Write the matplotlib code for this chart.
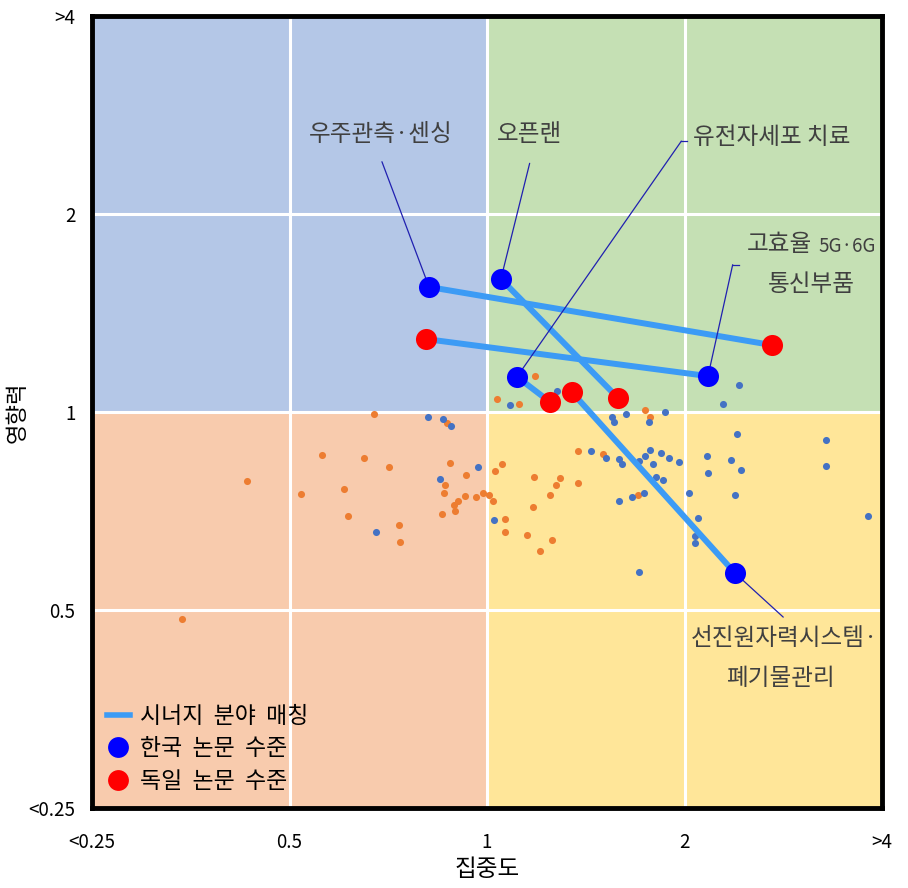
import matplotlib
matplotlib.use("Agg")
import matplotlib.pyplot as plt
from matplotlib.lines import Line2D
import numpy as np

plt.rcParams['font.family'] = ['Noto Sans CJK KR', 'DejaVu Sans']

# ---- data ----
kr_small_x = [0.814, 0.858, 0.880, 0.970, 0.848, 0.678, 1.280, 1.085, 2.423, 2.291,
              1.870, 1.630, 1.552, 1.564, 1.768, 2.407, 3.290, 1.442, 1.520, 1.591,
              1.608, 1.706, 1.774, 1.743, 1.791, 1.844, 1.896, 1.964, 2.166, 2.357,
              2.442, 2.175, 3.290, 1.811, 1.857, 1.591, 1.665, 1.736, 2.034, 2.390,
              1.026, 2.099, 2.073, 2.077, 3.813, 1.706]
kr_small_y = [0.981, 0.975, 0.951, 0.824, 0.790, 0.656, 1.075, 1.024, 1.098, 1.027,
              0.999, 0.992, 0.981, 0.967, 0.967, 0.925, 0.906, 0.872, 0.852, 0.847,
              0.835, 0.841, 0.875, 0.856, 0.835, 0.865, 0.850, 0.839, 0.856, 0.845,
              0.816, 0.807, 0.827, 0.796, 0.787, 0.732, 0.742, 0.752, 0.752, 0.747,
              0.684, 0.691, 0.647, 0.632, 0.694, 0.572]

de_small_x = [0.673, 0.868, 0.561, 0.650, 0.709, 0.879, 0.431, 0.864, 0.930, 0.521,
              0.606, 0.861, 0.927, 0.963, 0.987, 1.008, 0.904, 0.891, 0.894, 0.855,
              0.613, 0.735, 0.738, 0.343, 1.185, 1.037, 1.120, 1.743, 1.774, 1.376,
              1.504, 1.055, 1.030, 1.180, 1.293, 1.275, 1.376, 1.022, 1.249, 1.176,
              1.701, 1.066, 1.066, 1.152, 1.258, 1.206]
de_small_y = [0.992, 0.962, 0.859, 0.850, 0.824, 0.836, 0.785, 0.774, 0.801, 0.750,
              0.763, 0.752, 0.744, 0.742, 0.752, 0.747, 0.732, 0.721, 0.706, 0.699,
              0.696, 0.673, 0.634, 0.484, 1.133, 1.045, 1.027, 1.006, 0.981, 0.872,
              0.862, 0.833, 0.812, 0.796, 0.793, 0.774, 0.779, 0.732, 0.747, 0.716,
              0.747, 0.687, 0.656, 0.651, 0.638, 0.614]

fields = ['우주관측·센싱', '고효율 5G·6G 통신부품', '오픈랜', '유전자세포 치료', '선진원자력시스템·폐기물관리']
kr_x = [0.816, 2.172, 1.050, 1.111, 2.388]
kr_y = [1.549, 1.134, 1.593, 1.131, 0.569]
de_x = [2.719, 0.807, 1.584, 1.247, 1.347]
de_y = [1.264, 1.291, 1.050, 1.036, 1.072]

tick_vals = [0.25, 0.5, 1, 2, 4]
tick_labels = ['<0.25', '0.5', '1', '2', '>4']

# ---- figure ----
fig = plt.figure(figsize=(9.08, 8.88), dpi=100)
ax = fig.add_axes([92/908, 1-808/888, 790/908, 792/888])
ax.set_xscale('log', base=2)
ax.set_yscale('log', base=2)
ax.set_xlim(0.25, 4)
ax.set_ylim(0.25, 4)

# quadrant backgrounds
ax.fill_between([0.25, 1], 1, 4, color='#B4C7E7', zorder=0, lw=0)
ax.fill_between([1, 4], 1, 4, color='#C5E0B4', zorder=0, lw=0)
ax.fill_between([0.25, 1], 0.25, 1, color='#F8CBAD', zorder=0, lw=0)
ax.fill_between([1, 4], 0.25, 1, color='#FFE699', zorder=0, lw=0)

for v in [0.5, 1, 2]:
    ax.axvline(v, color='white', lw=2.2, zorder=1)
    ax.axhline(v, color='white', lw=2.2, zorder=1)

# small dots
ax.scatter(de_small_x, de_small_y, s=26, color='#ED7D31', zorder=2, lw=0)
ax.scatter(kr_small_x, kr_small_y, s=26, color='#4472C4', zorder=2, lw=0)

# synergy lines
for kx, ky, gx, gy in zip(kr_x, kr_y, de_x, de_y):
    ax.plot([kx, gx], [ky, gy], color='#3C9BF5', lw=4.3, zorder=3, solid_capstyle='butt')

ax.scatter(kr_x, kr_y, s=230, color='#0000FF', zorder=4, lw=0)
ax.scatter(de_x, de_y, s=230, color='#FF0000', zorder=4, lw=0)

# annotations (leader lines)
lc = '#2020B0'
txt_c = '#404040'
fs = 17

def leader(i, fx, fy):
    ax.annotate('', xy=(kr_x[i], kr_y[i]), xycoords='data',
                xytext=(fx, fy), textcoords='axes fraction',
                arrowprops=dict(arrowstyle='-', color=lc, lw=0.9, shrinkA=0, shrinkB=0),
                zorder=3.5)

# 우주관측·센싱
leader(0, 0.367, 0.816)
ax.text(0.366, 0.850, '우주관측·센싱', transform=ax.transAxes, ha='center', va='center',
        fontsize=fs, color=txt_c)
# 오픈랜
leader(2, 0.554, 0.814)
ax.text(0.554, 0.850, '오픈랜', transform=ax.transAxes, ha='center', va='center',
        fontsize=fs, color=txt_c)
# 유전자세포 치료
leader(3, 0.746, 0.842)
ax.plot([0.746, 0.753], [0.842, 0.842], transform=ax.transAxes, color=lc, lw=0.9)
ax.text(0.761, 0.847, '유전자세포 치료', transform=ax.transAxes, ha='left', va='center',
        fontsize=fs, color=txt_c)
# 고효율 5G·6G 통신부품
leader(1, 0.811, 0.686)
ax.plot([0.811, 0.819], [0.686, 0.686], transform=ax.transAxes, color=lc, lw=0.9)
ax.text(0.911, 0.711, '고효율', transform=ax.transAxes, ha='right', va='center',
        fontsize=fs, color=txt_c)
ax.text(0.920, 0.709, '5G·6G', transform=ax.transAxes, ha='left', va='center',
        fontsize=13.5, color=txt_c)
ax.text(0.910, 0.661, '통신부품', transform=ax.transAxes, ha='center', va='center',
        fontsize=fs, color=txt_c)
# 선진원자력시스템·폐기물관리
leader(4, 0.875, 0.241)
ax.text(0.877, 0.214, '선진원자력시스템·', transform=ax.transAxes, ha='center', va='center',
        fontsize=fs, color=txt_c)
ax.text(0.871, 0.164, '폐기물관리', transform=ax.transAxes, ha='center', va='center',
        fontsize=fs, color=txt_c)

# ticks
ax.set_xticks(tick_vals)
ax.set_xticklabels(tick_labels)
ax.set_yticks(tick_vals)
ax.set_yticklabels(tick_labels)
ax.minorticks_off()
ax.tick_params(axis='x', length=0, pad=17, labelsize=13.5)
ax.tick_params(axis='y', length=0, pad=12, labelsize=13.5)
ax.set_xlabel('집중도', fontsize=17, labelpad=4)
ax.set_ylabel('영향력', fontsize=16, labelpad=0)

for sp in ax.spines.values():
    sp.set_linewidth(3.5)
    sp.set_color('black')
    sp.set_zorder(6)

handles = [Line2D([0], [0], color='#3C9BF5', lw=4),
           Line2D([0], [0], marker='o', color='none', markerfacecolor='#0000FF',
                  markeredgecolor='none', markersize=15),
           Line2D([0], [0], marker='o', color='none', markerfacecolor='#FF0000',
                  markeredgecolor='none', markersize=15)]
leg = ax.legend(handles, ['시너지  분야  매칭', '한국  논문  수준', '독일  논문  수준'],
                loc='lower left', bbox_to_anchor=(0.0, 0.0), frameon=False,
                fontsize=16.5, handlelength=1.0, handletextpad=0.45, labelspacing=0.42,
                borderaxespad=0.35, borderpad=0.3)
leg.set_zorder(7)

fig.savefig('out.png', dpi=100)
